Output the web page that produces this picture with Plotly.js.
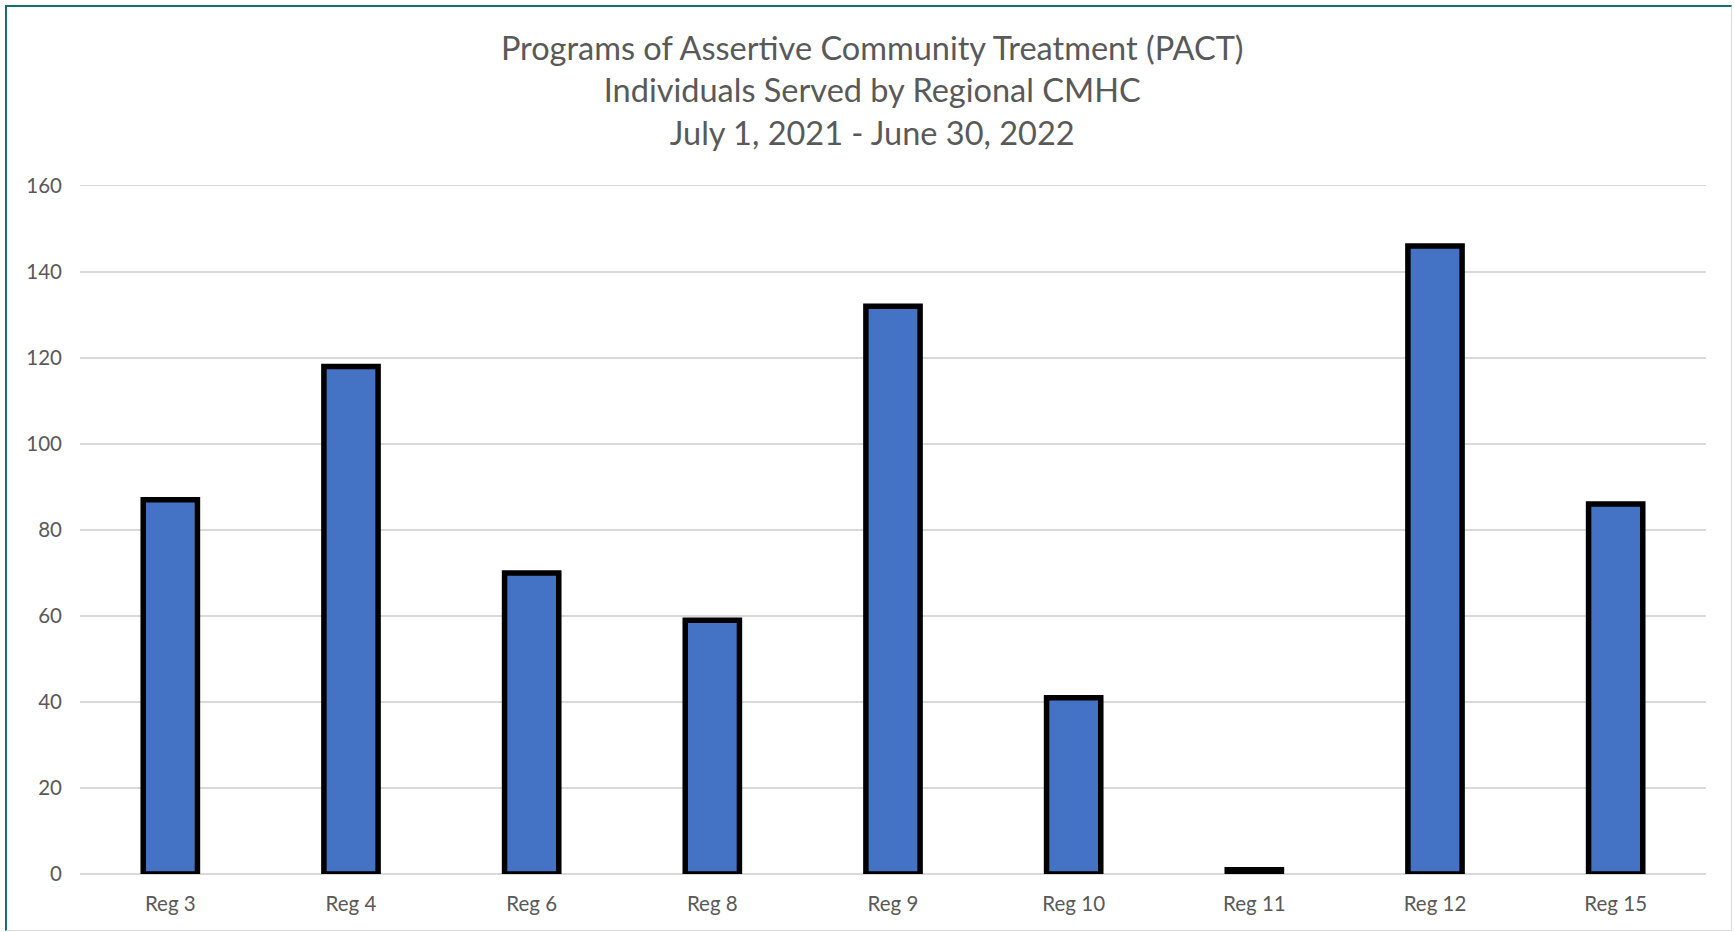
<!DOCTYPE html>
<html>
<head>
<meta charset="utf-8">
<script src="https://cdn.plot.ly/plotly-3.0.1.min.js"></script>
<style>
  html, body { margin: 0; padding: 0; background: #ffffff; }
  #wrap { position: relative; width: 1734px; height: 932px; overflow: hidden; }
  #chart { position: absolute; left: 0; top: 0; width: 1734px; height: 932px; }
  #frame { position: absolute; left: 5px; top: 5px; width: 1724px; height: 923px;
           border-top: 2px solid #17706b; border-left: 2px solid #17706b;
           border-right: 1px solid #dcdcdc; border-bottom: 1px solid #dcdcdc;
           pointer-events: none; }
</style>
</head>
<body>
<div id="wrap">
  <div id="chart"></div>
  <div id="frame"></div>
</div>
<script>
const categories = ["Reg 3", "Reg 4", "Reg 6", "Reg 8", "Reg 9", "Reg 10", "Reg 11", "Reg 12", "Reg 15"];
const individualsServed = [87, 118, 70, 59, 132, 41, 1, 146, 86];
const yTickValues = [0, 20, 40, 60, 80, 100, 120, 140, 160];
const titleLines = [
  "Programs of Assertive Community Treatment (PACT)",
  "Individuals Served by Regional CMHC",
  "July 1, 2021 - June 30, 2022"
];

const trace = {
  type: "bar",
  x: categories,
  y: individualsServed,
  marker: { color: "#4472c4", line: { color: "#000000", width: 5.5 } },
  hoverinfo: "x+y"
};

const layout = {
  width: 1734,
  height: 932,
  paper_bgcolor: "rgba(0,0,0,0)",
  plot_bgcolor: "rgba(0,0,0,0)",
  margin: { l: 80, r: 28, t: 184, b: 58 },
  bargap: 0.7,
  showlegend: false,
  font: { family: "Lato, 'Open Sans', sans-serif", color: "#595959", size: 20.5 },
  title: {
    text: titleLines.join("<br>"),
    font: { family: "Lato, 'Open Sans', sans-serif", size: 32.5, color: "#595959" },
    x: 0.503, xanchor: "center", xref: "container",
    y: 1 - 60 / 932, yanchor: "top", yref: "container"
  },
  xaxis: {
    type: "category",
    showgrid: false,
    showline: false,
    zeroline: false,
    ticks: "",
    tickfont: { size: 20.5, color: "#595959" },
    ticklabelstandoff: 15
  },
  yaxis: {
    range: [0, 160.4],
    tickvals: yTickValues,
    ticktext: yTickValues.map(String),
    showgrid: true,
    gridcolor: "#d9d9d9",
    gridwidth: 1.5,
    zeroline: true,
    zerolinecolor: "#d9d9d9",
    zerolinewidth: 1.5,
    showline: false,
    ticks: "",
    tickfont: { size: 20.5, color: "#595959" },
    ticklabelstandoff: 17
  }
};

Plotly.newPlot("chart", [trace], layout, { displayModeBar: false, staticPlot: true });
</script>
</body>
</html>
